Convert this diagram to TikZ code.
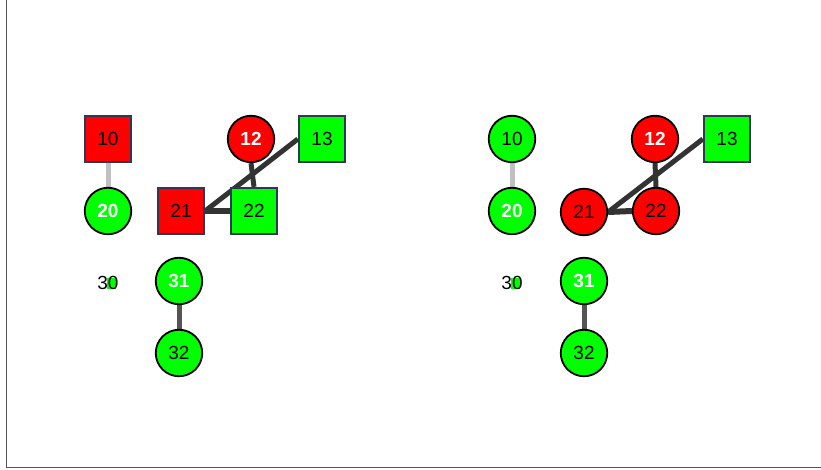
\documentclass[tikz,border=0pt]{standalone}
\usepackage{fontspec}
\setmainfont{Liberation Sans}
\usetikzlibrary{backgrounds}
\definecolor{gr}{HTML}{00FF00}
\definecolor{rd}{HTML}{FF0000}
\definecolor{sqborder}{HTML}{2E3A55}
\definecolor{edgelight}{HTML}{C0C0C0}
\definecolor{edgedark}{HTML}{333333}
\definecolor{edgemid}{HTML}{555555}
\definecolor{framecol}{HTML}{555555}
\tikzset{
  base/.style={inner sep=0pt, font=\fontsize{19}{19}\selectfont, text=black},
  sq/.style={base, rectangle, draw=sqborder, line width=1.8pt, minimum size=46.5pt},
  cir/.style={base, circle, draw=black, line width=1.8pt, minimum size=46.5pt},
  wt/.style={text=white, font=\fontsize{19}{19}\selectfont\bfseries},
  gfill/.style={fill=gr},
  rfill/.style={fill=rd},
  tiny/.style={rectangle, fill=gr, inner sep=0pt, minimum width=9pt, minimum height=11pt},
  tinylabel/.style={base},
  elight/.style={draw=edgelight, line width=5pt},
  edark/.style={draw=edgedark, line width=5pt},
  edarkthick/.style={draw=edgedark, line width=6pt},
  emid/.style={draw=edgemid, line width=5pt},
}
\begin{document}
\begin{tikzpicture}[x=1pt,y=-1pt]
\useasboundingbox (0,0) rectangle (821,470);
\coordinate (ftop) at (6.5,0);
\coordinate (fcorner) at (6.5,467.5);
\coordinate (fright) at (821,467.5);
\draw[framecol, line width=1.5pt] (ftop) -- (fcorner) -- (fright);

% left graph
\node[sq, rfill] (a10) at (108,139) {10};
\node[cir, gfill, wt] (a20) at (108,211) {20};
\node[cir, rfill, wt] (a12) at (251,139) {12};
\node[sq, gfill] (a13) at (322,139) {13};
\node[sq, rfill] (a21) at (181,211) {21};
\node[sq, gfill] (a22) at (254,211) {22};
\node[tinylabel] (a30) at (108,283) {30};
\node[cir, gfill, wt] (a31) at (179,281) {31};
\node[cir, gfill] (a32) at (179,353) {32};

% right graph
\node[cir, gfill] (b10) at (512,139) {10};
\node[cir, gfill, wt] (b20) at (512,211) {20};
\node[cir, rfill, wt] (b12) at (655,139) {12};
\node[sq, gfill] (b13) at (727,139) {13};
\node[cir, rfill] (b21) at (584,212) {21};
\node[cir, rfill] (b22) at (656,211) {22};
\node[tinylabel] (b30) at (512,283) {30};
\node[cir, gfill, wt] (b31) at (584,281) {31};
\node[cir, gfill] (b32) at (584,353) {32};

% edges and small marks behind nodes
\begin{scope}[on background layer]
\node[tiny] (a30g) at ([xshift=3pt]a30.center) {};
\node[tiny] (b30g) at ([xshift=3pt]b30.center) {};

\path[elight] (a10.south) -- (a20.north);
\path[edark] (a12.south) -- (a22.north);
\path[edark] (a13.west) -- (a21.east);
\path[edarkthick] (a21.east) -- (a22.west);
\path[emid] (a31.south) -- (a32.north);

\path[elight] (b10.south) -- (b20.north);
\path[edark] (b12.south) -- (b22.north);
\path[edark] (b13.west) -- (b21.east);
\path[edarkthick] (b21.east) -- (b22.west);
\path[emid] (b31.south) -- (b32.north);
\end{scope}
\end{tikzpicture}
\end{document}
